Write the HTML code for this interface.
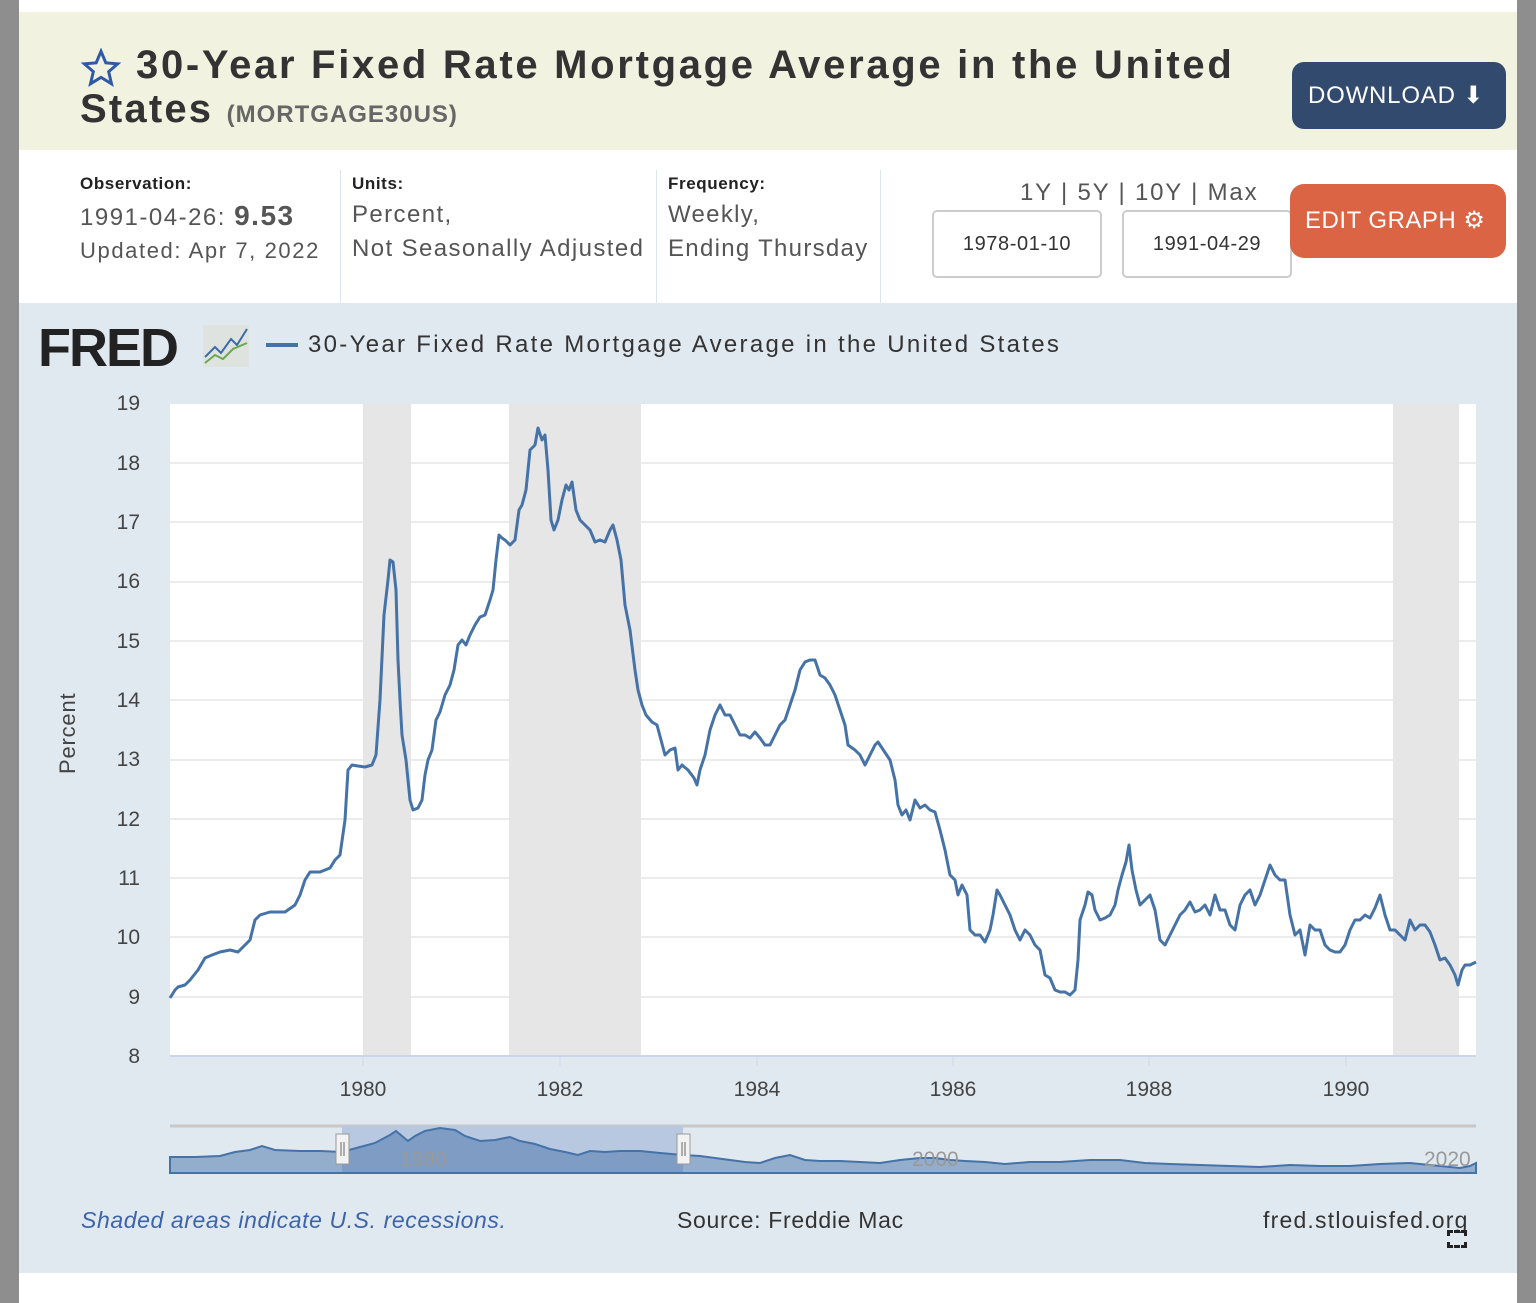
<!DOCTYPE html>
<html><head><meta charset="utf-8"><style>
body{margin:0;width:1536px;height:1303px;position:relative;background:#fff;font-family:"Liberation Sans",sans-serif;overflow:hidden}
.a{position:absolute;white-space:nowrap}
</style></head><body>
<div class="a" style="left:0;top:0;width:19px;height:1303px;background:#8e8e8e"></div>
<div class="a" style="left:1517px;top:0;width:19px;height:1303px;background:#8e8e8e"></div>
<div class="a" style="left:19px;top:12px;width:1498px;height:138px;background:#f1f3e0"></div>
<svg class="a" style="left:80px;top:48px" width="42" height="40" viewBox="0 0 24 24"><path d="M12 2l2.9 6.9 7.1.6-5.4 4.7 1.7 7.3L12 17.6 5.7 21.5l1.7-7.3L2 9.5l7.1-.6z" fill="none" stroke="#2f5aa8" stroke-width="1.8"/></svg>
<div class="a" style="left:136px;top:43px;font-size:40px;font-weight:bold;color:#333;letter-spacing:2.7px">30-Year Fixed Rate Mortgage Average in the United</div>
<div class="a" style="left:80px;top:87px;font-size:40px;font-weight:bold;color:#333;letter-spacing:2.2px">States <span style="font-size:24px;color:#666;letter-spacing:1px">(MORTGAGE30US)</span></div>
<div class="a" style="left:1292px;top:62px;width:214px;height:67px;background:#324a6e;border-radius:12px;color:#fff;font-size:24px;line-height:67px;text-indent:16px;letter-spacing:0.8px">DOWNLOAD ⬇</div>
<div class="a" style="left:80px;top:174px;font-size:17px;font-weight:bold;color:#222;letter-spacing:0.6px">Observation:</div>
<div class="a" style="left:80px;top:200px;font-size:24px;color:#555;letter-spacing:1.5px">1991-04-26: <b style="font-size:28px">9.53</b></div>
<div class="a" style="left:80px;top:238px;font-size:22px;color:#555;letter-spacing:1.6px">Updated: Apr 7, 2022</div>
<div class="a" style="left:340px;top:170px;width:1px;height:133px;background:#dde6ee"></div>
<div class="a" style="left:352px;top:174px;font-size:17px;font-weight:bold;color:#222;letter-spacing:0.6px">Units:</div>
<div class="a" style="left:352px;top:198px;font-size:24px;color:#555;line-height:34px;letter-spacing:1.4px">Percent,<br>Not Seasonally Adjusted</div>
<div class="a" style="left:656px;top:170px;width:1px;height:133px;background:#dde6ee"></div>
<div class="a" style="left:668px;top:174px;font-size:17px;font-weight:bold;color:#222;letter-spacing:0.6px">Frequency:</div>
<div class="a" style="left:668px;top:198px;font-size:24px;color:#555;line-height:34px;letter-spacing:1.3px">Weekly,<br>Ending Thursday</div>
<div class="a" style="left:880px;top:170px;width:1px;height:133px;background:#dde6ee"></div>
<div class="a" style="left:1020px;top:179px;font-size:24px;color:#555;letter-spacing:1.8px">1Y | 5Y | 10Y | Max</div>
<div class="a" style="left:932px;top:210px;width:166px;height:64px;border:2px solid #ccc;border-radius:5px;font-size:20px;color:#333;text-align:center;line-height:64px;letter-spacing:0.6px">1978-01-10</div>
<div class="a" style="left:1122px;top:210px;width:166px;height:64px;border:2px solid #ccc;border-radius:5px;font-size:20px;color:#333;text-align:center;line-height:64px;letter-spacing:0.6px">1991-04-29</div>
<div class="a" style="left:1290px;top:184px;width:216px;height:74px;background:#db6444;border-radius:14px;color:#fff;font-size:24px;line-height:74px;text-indent:15px;letter-spacing:0.5px">EDIT GRAPH ⚙</div>
<div class="a" style="left:19px;top:303px;width:1498px;height:970px;background:#e1e9f0"></div>
<div class="a" style="left:38px;top:317px;font-size:54px;font-weight:bold;color:#222;letter-spacing:-2px">FRED</div>
<svg class="a" style="left:203px;top:325px" width="46" height="42"><rect x="0" y="0" width="46" height="42" fill="#dfe3e0"/><polyline points="2,32 12,22 18,28 28,14 34,20 44,4" fill="none" stroke="#3a6aa8" stroke-width="2"/><polyline points="2,38 12,30 20,34 30,24 44,18" fill="none" stroke="#6aa84f" stroke-width="2"/></svg>
<div class="a" style="left:266px;top:343px;width:32px;height:4px;background:#4572a7"></div>
<div class="a" style="left:308px;top:331px;font-size:24px;color:#333;letter-spacing:2.3px">30-Year Fixed Rate Mortgage Average in the United States</div>
<div class="a" style="font-size:22px;color:#444;transform:rotate(-90deg);transform-origin:0 0;top:774px;left:55px;letter-spacing:0.8px">Percent</div>
<svg class="a" style="left:0;top:0" width="1536" height="1303">
<rect x="170" y="404" width="1306" height="652" fill="#fff"/>
<rect x="363" y="404" width="48" height="652" fill="#e6e6e6"/>
<rect x="509" y="404" width="132" height="652" fill="#e6e6e6"/>
<rect x="1393" y="404" width="66" height="652" fill="#e6e6e6"/>
<g stroke="#e6e6e6" stroke-width="1.5">
<line x1="170" x2="1476" y1="463" y2="463"/><line x1="170" x2="1476" y1="522" y2="522"/><line x1="170" x2="1476" y1="582" y2="582"/><line x1="170" x2="1476" y1="641" y2="641"/><line x1="170" x2="1476" y1="700" y2="700"/><line x1="170" x2="1476" y1="760" y2="760"/><line x1="170" x2="1476" y1="819" y2="819"/><line x1="170" x2="1476" y1="878" y2="878"/><line x1="170" x2="1476" y1="937" y2="937"/><line x1="170" x2="1476" y1="997" y2="997"/></g>
<line x1="170" x2="1476" y1="1056" y2="1056" stroke="#ccd6eb" stroke-width="2"/>
<g stroke="#ccd6eb"><line x1="363" x2="363" y1="1056" y2="1066"/><line x1="560" x2="560" y1="1056" y2="1066"/><line x1="757" x2="757" y1="1056" y2="1066"/><line x1="953" x2="953" y1="1056" y2="1066"/><line x1="1149" x2="1149" y1="1056" y2="1066"/><line x1="1346" x2="1346" y1="1056" y2="1066"/></g>
<g font-size="21" fill="#444" text-anchor="end" font-family="Liberation Sans,sans-serif">
<text x="140" y="410">19</text><text x="140" y="470">18</text><text x="140" y="529">17</text><text x="140" y="588">16</text><text x="140" y="648">15</text><text x="140" y="707">14</text><text x="140" y="766">13</text><text x="140" y="826">12</text><text x="140" y="885">11</text><text x="140" y="944">10</text><text x="140" y="1004">9</text><text x="140" y="1063">8</text></g>
<g font-size="21" fill="#444" text-anchor="middle" font-family="Liberation Sans,sans-serif">
<text x="363" y="1096">1980</text><text x="560" y="1096">1982</text><text x="757" y="1096">1984</text><text x="953" y="1096">1986</text><text x="1149" y="1096">1988</text><text x="1346" y="1096">1990</text></g>
<polyline fill="none" stroke="#4572a7" stroke-width="3" stroke-linejoin="round" points="170,998 175,990 178,987 185,985 190,980 198,970 205,958 212,955 220,952 230,950 238,952 245,945 250,940 255,920 260,915 270,912 285,912 295,905 300,895 305,880 310,872 320,872 330,868 335,860 340,855 345,820 348,770 352,765 358,766 365,767 372,765 376,755 380,700 384,615 388,580 390,560 393,562 396,590 398,660 400,700 402,735 406,760 410,800 413,810 418,808 422,800 425,775 428,760 432,750 436,720 440,712 445,695 450,685 454,670 458,645 462,640 466,645 470,635 475,625 480,617 485,615 490,600 493,590 496,560 499,535 502,538 505,540 510,545 515,540 519,510 522,505 526,490 530,450 535,445 538,428 542,440 545,435 548,470 551,520 554,530 558,520 562,500 566,485 569,490 572,482 576,510 580,520 585,525 590,530 595,542 600,540 605,542 610,530 613,525 617,540 621,560 625,605 630,630 635,670 638,690 642,705 646,715 652,722 657,725 661,740 665,755 670,750 675,748 678,770 682,765 688,770 694,778 697,785 700,770 705,755 710,730 715,715 720,705 725,715 730,715 735,725 740,735 745,735 750,738 755,732 760,738 765,745 770,745 775,735 780,725 785,720 790,705 795,690 800,670 805,662 810,660 815,660 820,675 825,678 830,685 835,695 840,710 845,725 848,745 855,750 860,755 865,765 870,755 875,745 878,742 882,748 890,760 895,780 898,805 902,815 906,810 910,820 915,800 920,808 925,805 930,810 935,812 940,830 945,850 950,875 955,880 958,895 962,885 967,895 970,930 975,935 980,935 985,942 990,930 993,915 997,890 1000,895 1005,905 1010,915 1015,930 1020,940 1025,930 1030,935 1035,945 1040,950 1045,975 1050,978 1055,990 1060,992 1065,992 1070,995 1075,990 1078,960 1080,920 1085,905 1088,892 1092,895 1095,910 1100,920 1105,918 1110,915 1115,905 1118,890 1122,875 1126,862 1129,845 1132,870 1136,890 1140,905 1145,900 1150,895 1155,910 1160,940 1165,945 1170,935 1175,925 1180,915 1185,910 1190,902 1195,912 1200,910 1205,905 1210,915 1215,895 1220,910 1225,910 1230,925 1235,930 1240,905 1245,895 1250,890 1255,905 1260,895 1265,880 1270,865 1275,875 1280,880 1285,880 1290,915 1295,935 1300,930 1305,955 1310,925 1315,930 1320,930 1325,945 1330,950 1335,952 1340,952 1345,945 1350,930 1355,920 1360,920 1365,915 1370,918 1375,908 1380,895 1385,915 1390,930 1395,930 1400,935 1405,940 1410,920 1415,930 1420,925 1425,925 1430,932 1435,945 1440,960 1445,958 1450,965 1455,975 1458,985 1462,970 1465,965 1470,965 1476,962"/>
<line x1="170" x2="1476" y1="1126" y2="1126" stroke="#c8c8c8" stroke-width="3"/>
<rect x="342" y="1126" width="341" height="48" fill="#b8c8e0"/>
<path d="M170,1157 L195,1157 L220,1156 L235,1152 L250,1150 L262,1146 L275,1150 L300,1151 L320,1151 L342,1152 L360,1147 L375,1143 L390,1135 L396,1131 L402,1136 L408,1141 L415,1136 L425,1131 L440,1128 L455,1130 L465,1136 L480,1141 L495,1140 L510,1137 L520,1141 L535,1144 L550,1149 L565,1152 L578,1155 L590,1151 L605,1152 L620,1151 L640,1151 L660,1153 L683,1155 L700,1156 L715,1158 L730,1160 L745,1162 L760,1163 L775,1158 L790,1155 L805,1160 L820,1161 L840,1161 L860,1162 L880,1163 L900,1160 L920,1158 L935,1158 L950,1160 L965,1161 L985,1162 L1005,1164 L1030,1162 L1060,1162 L1090,1160 L1120,1160 L1145,1163 L1170,1164 L1200,1165 L1230,1166 L1260,1167 L1290,1165 L1320,1166 L1350,1166 L1380,1164 L1410,1163 L1440,1166 L1460,1168 L1470,1166 L1476,1163 L1476,1173 L170,1173 Z" fill="#4572a7" fill-opacity="0.5" stroke="#4572a7" stroke-width="2"/>
<text x="400" y="1166" font-size="21" fill="#999" font-family="Liberation Sans,sans-serif">1980</text>
<text x="912" y="1166" font-size="21" fill="#999" font-family="Liberation Sans,sans-serif">2000</text>
<text x="1424" y="1166" font-size="21" fill="#999" font-family="Liberation Sans,sans-serif">2020</text>
<rect x="336" y="1134" width="13" height="30" fill="#f2f2f2" stroke="#999"/><line x1="341" x2="341" y1="1142" y2="1156" stroke="#666"/><line x1="344" x2="344" y1="1142" y2="1156" stroke="#666"/>
<rect x="677" y="1134" width="13" height="30" fill="#f2f2f2" stroke="#999"/><line x1="682" x2="682" y1="1142" y2="1156" stroke="#666"/><line x1="685" x2="685" y1="1142" y2="1156" stroke="#666"/>
</svg>
<div class="a" style="left:81px;top:1207px;font-size:23px;font-style:italic;color:#3d64a8;letter-spacing:0.6px">Shaded areas indicate U.S. recessions.</div>
<div class="a" style="left:677px;top:1207px;font-size:23px;color:#333;letter-spacing:0.7px">Source: Freddie Mac</div>
<div class="a" style="left:1263px;top:1207px;font-size:23px;color:#333;letter-spacing:1.2px">fred.stlouisfed.org</div>
<div class="a" style="left:1447px;top:1230px;width:20px;height:18px;border:3px dashed #222;box-sizing:border-box"></div>
</body></html>
